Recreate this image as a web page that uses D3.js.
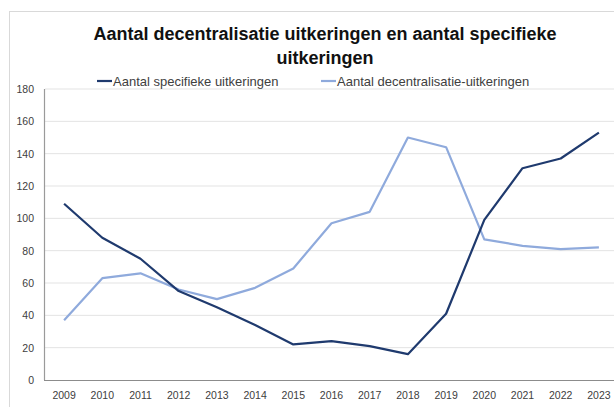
<!DOCTYPE html>
<html>
<head>
<meta charset="utf-8">
<script src="https://cdn.jsdelivr.net/npm/d3@7"></script>
<style>
  body { margin: 0; background: #fff; }
  svg { display: block; }
</style>
</head>
<body>
<div id="chart"></div>
<script>
// Data
var years = ['2009', '2010', '2011', '2012', '2013', '2014', '2015', '2016', '2017', '2018', '2019', '2020', '2021', '2022', '2023']
var specifieke = [109, 88, 75, 55, 45, 34, 22, 24, 21, 16, 41, 99, 131, 137, 153]
var decentralisatie = [37, 63, 66, 56, 50, 57, 69, 97, 104, 150, 144, 87, 83, 81, 82]
var yTicks = [0, 20, 40, 60, 80, 100, 120, 140, 160, 180]

var series = [
  {name: 'Aantal specifieke uitkeringen', values: specifieke, color: '#1f3a6e'},
  {name: 'Aantal decentralisatie-uitkeringen', values: decentralisatie, color: '#8faadc'}
]

var width = 614, height = 407
var font = '"Liberation Sans", Arial, sans-serif'

var svg = d3.select('#chart').append('svg')
    .attr('width', width)
    .attr('height', height)

// chart border
svg.append('rect')
    .attr('x', 9.5).attr('y', 11.5)
    .attr('width', 640).attr('height', 420)
    .attr('fill', 'none')
    .attr('stroke', '#d9d9d9')

var x = d3.scaleBand()
    .domain(years)
    .range([45, 45 + 15 * 38.2])

var y = d3.scaleLinear()
    .domain([0, 180])
    .range([380, 89])

// Gridlines
svg.selectAll('line.grid')
    .data(yTicks.filter(function(d){ return d > 0 }))
  .enter().append('line')
    .attr('class', 'grid')
    .attr('x1', 45)
    .attr('x2', width)
    .attr('y1', function(d){ return y(d) })
    .attr('y2', function(d){ return y(d) })
    .style('stroke', '#e3e3e3')
    .style('stroke-width', 1)

// Y labels
svg.selectAll('text.ylab')
    .data(yTicks)
  .enter().append('text')
    .attr('class', 'ylab')
    .attr('x', 34)
    .attr('y', function(d){ return y(d) + 4 })
    .text(function(d){ return d })
    .style('text-anchor', 'end')
    .attr('font-family', font)
    .attr('font-size', '10.5px')
    .attr('fill', '#404040')

// X labels
svg.selectAll('text.xlab')
    .data(years)
  .enter().append('text')
    .attr('class', 'xlab')
    .attr('x', function(d){ return x(d) + x.bandwidth() / 2 })
    .attr('y', 399)
    .text(function(d){ return d })
    .style('text-anchor', 'middle')
    .attr('font-family', font)
    .attr('font-size', '10.5px')
    .attr('fill', '#404040')

// Axis lines
svg.append('line')
    .attr('x1', 44.5).attr('x2', 44.5)
    .attr('y1', 89).attr('y2', 380)
    .style('stroke', '#9a9a9a')
    .style('stroke-width', 1.2)
svg.append('line')
    .attr('x1', 44).attr('x2', width)
    .attr('y1', 380.5).attr('y2', 380.5)
    .style('stroke', '#8c8c8c')
    .style('stroke-width', 1.2)

// Lines
var line = d3.line()
    .x(function(d, i){ return x(years[i]) + x.bandwidth() / 2 })
    .y(function(d){ return y(d) })

series.slice().reverse().forEach(function(s){
  svg.append('path')
      .datum(s.values)
      .attr('d', line)
      .attr('fill', 'none')
      .attr('stroke', s.color)
      .attr('stroke-width', 2.2)
      .attr('stroke-linejoin', 'round')
})

// Title
var titleLines = ['Aantal decentralisatie uitkeringen en aantal specifieke', 'uitkeringen']
svg.selectAll('text.title')
    .data(titleLines)
  .enter().append('text')
    .attr('class', 'title')
    .attr('x', 325)
    .attr('y', function(d, i){ return 40 + i * 24 })
    .text(function(d){ return d })
    .style('text-anchor', 'middle')
    .attr('font-family', font)
    .attr('font-weight', 'bold')
    .attr('font-size', '18px')
    .attr('fill', '#111')

// Legend
var legendX = [97, 321]
var leg = svg.selectAll('g.legend')
    .data(series)
  .enter().append('g')
    .attr('class', 'legend')
    .attr('transform', function(d, i){ return 'translate(' + legendX[i] + ',81)' })
leg.append('line')
    .attr('x1', 0).attr('x2', 15)
    .attr('y1', 0).attr('y2', 0)
    .attr('stroke', function(d){ return d.color })
    .attr('stroke-width', 2.2)
leg.append('text')
    .attr('x', 16)
    .attr('y', 4.5)
    .text(function(d){ return d.name })
    .attr('font-family', font)
    .attr('font-size', '13px')
    .attr('fill', '#404040')
</script>
</body>
</html>
